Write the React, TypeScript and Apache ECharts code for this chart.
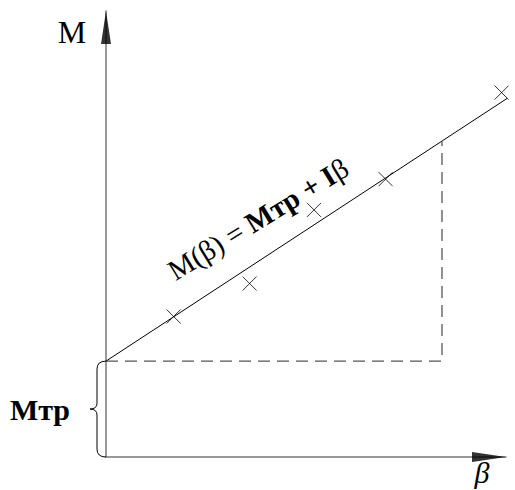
import React, { useEffect, useRef } from "react";
import * as echarts from "echarts";

// Axis ranges (data units)
const betaRange = [0, 10];
const mRange = [0, 10];

// Friction moment level
const mTr = [2.15];

// Fitted straight line M(β) = Mтр + Iβ (two end points)
const fitBeta = [0, 10.3];
const fitM = [2.15, 8.2];

// Dashed construction lines
const dashBeta = [0, 8.4, 8.4];
const dashM = [2.15, 2.15, 7.07];

// Measured points (crosses)
const measBeta = [1.69, 3.59, 5.2, 6.99, 9.89];
const measM = [3.15, 3.89, 5.54, 6.23, 8.17];

// Texts
const yName = "M";
const xName = "β";
const mTrLabel = "Mтр";

const SERIF = '"Liberation Serif", "Times New Roman", serif';

export default function App() {
  const ref = useRef<HTMLDivElement>(null);

  useEffect(() => {
    if (!ref.current) return;
    const chart = echarts.init(ref.current, undefined, { renderer: "svg" });

    const zip = (a: number[], b: number[]) => a.map((v, i) => [v, b[i]]);

    chart.setOption({
      animation: false,
      backgroundColor: "#fff",
      grid: { left: 106, right: 9, top: 11, bottom: 33 },
      xAxis: {
        type: "value",
        min: betaRange[0],
        max: betaRange[1],
        axisLine: { show: true, lineStyle: { color: "#777", width: 1.5 } },
        axisTick: { show: false },
        axisLabel: { show: false },
        splitLine: { show: false },
      },
      yAxis: {
        type: "value",
        min: mRange[0],
        max: mRange[1],
        axisLine: { show: true, lineStyle: { color: "#777", width: 1.5 } },
        axisTick: { show: false },
        axisLabel: { show: false },
        splitLine: { show: false },
      },
      graphic: [
        {
          type: "text",
          x: 72,
          y: 32,
          style: {
            text: yName,
            fontFamily: SERIF,
            fontSize: 32,
            fill: "#000",
            align: "center",
            verticalAlign: "middle",
          },
        },
        {
          type: "text",
          x: 482,
          y: 472,
          style: {
            text: xName,
            fontFamily: SERIF,
            fontStyle: "italic",
            fontSize: 30,
            fill: "#000",
            align: "center",
            verticalAlign: "middle",
          },
        },
        {
          type: "text",
          x: 258,
          y: 219,
          rotation: (31.5 * Math.PI) / 180,
          style: {
            text: "{r|M(β) = }{b|Mтр + I}{r|β}",
            fill: "#000",
            align: "center",
            verticalAlign: "middle",
            rich: {
              r: { fontFamily: SERIF, fontSize: 29, fill: "#000" },
              b: { fontFamily: SERIF, fontSize: 29, fontWeight: "bold", fill: "#000" },
            },
          },
        },
      ],
      series: [
        {
          type: "line",
          data: zip(dashBeta, dashM),
          symbol: "none",
          silent: true,
          lineStyle: { color: "#555", width: 1.3, type: [12, 7] },
        },
        {
          type: "line",
          data: zip(fitBeta, fitM),
          symbol: "none",
          clip: false,
          silent: true,
          lineStyle: { color: "#000", width: 1 },
        },
        {
          type: "scatter",
          data: zip(measBeta, measM),
          symbol: "path://M0,0L10,10M10,0L0,10",
          symbolSize: 14,
          itemStyle: { color: "rgba(0,0,0,0)", borderColor: "#000", borderWidth: 1 },
        },
        {
          type: "custom",
          silent: true,
          clip: false,
          data: [[0, mTr[0]]],
          renderItem: (params: any, api: any) => {
            const top = api.coord([0, api.value(1)]);
            const bot = api.coord([0, 0]);
            const x0 = top[0];
            const y1 = top[1];
            const y2 = bot[1];
            const ym = (y1 + y2) / 2;
            const xs = x0 - 9;
            const xp = x0 - 16;
            const d =
              `M${x0},${y1} Q${xs},${y1} ${xs},${y1 + 8} L${xs},${ym - 6} ` +
              `Q${xs},${ym} ${xp},${ym} Q${xs},${ym} ${xs},${ym + 6} ` +
              `L${xs},${y2 - 8} Q${xs},${y2} ${x0},${y2}`;
            return {
              type: "group",
              children: [
                {
                  type: "path",
                  shape: { pathData: d },
                  style: { stroke: "#000", fill: "none", lineWidth: 1 },
                },
                {
                  type: "text",
                  x: x0 - 66,
                  y: ym,
                  style: {
                    text: mTrLabel,
                    fontFamily: SERIF,
                    fontWeight: "bold",
                    fontSize: 30,
                    fill: "#000",
                    align: "center",
                    verticalAlign: "middle",
                  },
                },
              ],
            };
          },
        },
        {
          type: "scatter",
          silent: true,
          clip: false,
          data: [[betaRange[0], mRange[1]]],
          symbol: "triangle",
          symbolSize: [10, 33],
          symbolOffset: [0, 16.5],
          itemStyle: { color: "#000" },
        },
        {
          type: "scatter",
          silent: true,
          clip: false,
          data: [[betaRange[1], mRange[0]]],
          symbol: "triangle",
          symbolSize: [10, 34],
          symbolRotate: -90,
          symbolOffset: [-17, 0],
          itemStyle: { color: "#000" },
        },
      ],
    });

    return () => chart.dispose();
  }, []);

  return (
    <div
      ref={ref}
      style={{ position: "fixed", left: 0, top: 0, width: 515, height: 490, background: "#fff" }}
    />
  );
}
